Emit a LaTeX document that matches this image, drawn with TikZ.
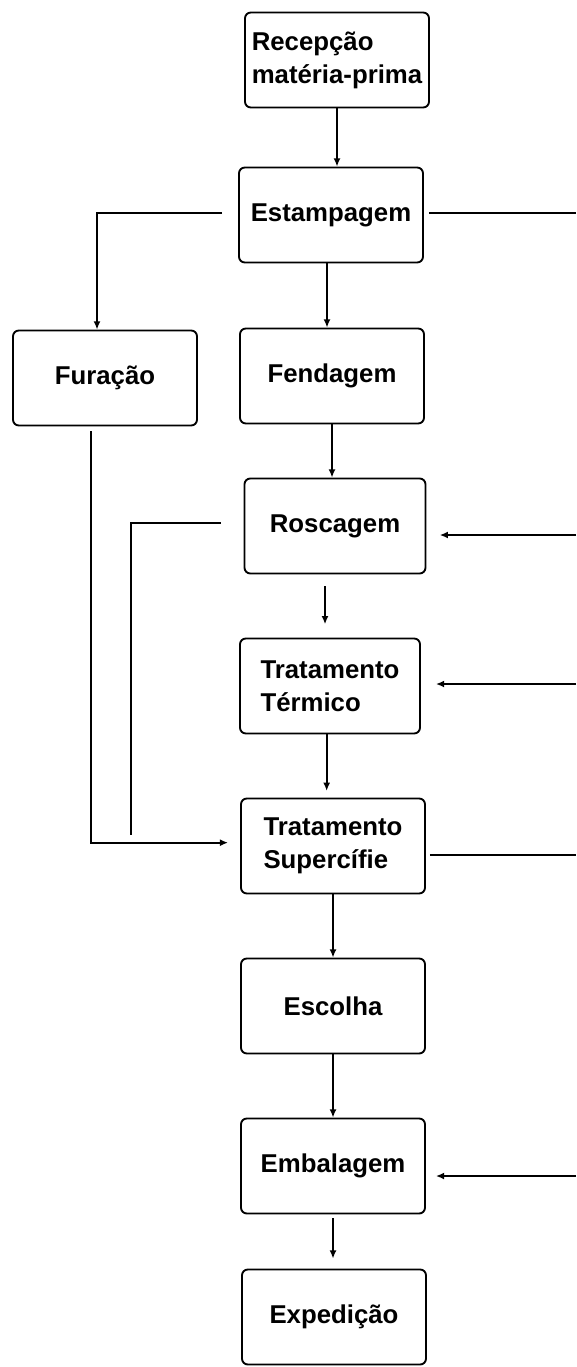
\documentclass[tikz,border=0pt]{standalone}
\usepackage{fontspec}
\setmainfont{Liberation Sans}
\usetikzlibrary{arrows.meta,positioning}

\begin{document}
\begin{tikzpicture}[x=0.03cm,y=-0.03cm,
  etapa/.style={draw,line width=1.6pt,rounded corners=5pt,minimum width=5.52cm,
    minimum height=2.85cm,inner sep=2pt,align=left,
    font=\bfseries\fontsize{22}{28}\selectfont},
  fluxo/.style={line width=1.6pt,-{Latex[length=7pt,width=6pt]}},
  linha/.style={line width=1.6pt}]
  \useasboundingbox (0,0) rectangle (576,1367);
  \coordinate (borda) at (576,0);

  % Etapas
  \node[etapa] (rec) at (337,60) {Recepção\\matéria-prima};
  \node[etapa] (est) at (331,215) {Estampagem};
  \node[etapa] (fur) at (105,378) {Furação};
  \node[etapa] (fen) at (332,376) {Fendagem};
  \node[etapa,minimum width=5.43cm] (ros) at (335,526) {Roscagem};
  \node[etapa,minimum width=5.4cm] (ter) at (330,686) {Tratamento\\Térmico};
  \node[etapa] (sup) at (333,846) {Tratamento\\Supercífie};
  \node[etapa] (esc) at (333,1006) {Escolha};
  \node[etapa] (emb) at (333,1166) {Embalagem};
  \node[etapa] (exp) at (334,1317) {Expedição};

  % Fluxo principal
  \draw[fluxo] (rec.south) -- (rec.south |- est.north);
  \draw[fluxo] ([xshift=-0.12cm]est.south) -- ([xshift=-0.12cm]est.south |- fen.north);
  \draw[fluxo] (fen.south) -- (fen.south |- ros.north);
  \draw[fluxo,shorten <=0.35cm,shorten >=0.4cm] ([xshift=-0.3cm]ros.south) -- ([xshift=-0.3cm]ros.south |- ter.north);
  \draw[fluxo,shorten >=0.2cm] ([xshift=-0.1cm]ter.south) -- ([xshift=-0.1cm]ter.south |- sup.north);
  \draw[fluxo] (sup.south) -- (sup.south |- esc.north);
  \draw[fluxo] (esc.south) -- (esc.south |- emb.north);
  \draw[fluxo,shorten <=0.12cm,shorten >=0.3cm] (emb.south) -- (emb.south |- exp.north);

  % Desvios a esquerda
  \draw[fluxo,shorten <=0.48cm] ([yshift=0.06cm]est.west) -| ([xshift=-0.24cm]fur.north);
  \coordinate (rosfim) at (131,835);
  \draw[linha,shorten <=0.69cm] ([yshift=0.1cm]ros.west) -| (rosfim);
  \draw[fluxo,shorten <=0.15cm,shorten >=0.36cm] ([xshift=-0.42cm]fur.south) |- ([yshift=0.1cm]sup.west);

  % Ligacoes a direita
  \draw[linha,shorten <=0.15cm] ([yshift=0.06cm]est.east) -- ([yshift=0.06cm]est.east -| borda);
  \draw[fluxo,shorten >=0.4cm] ([yshift=-0.27cm]ros.east -| borda) -- ([yshift=-0.27cm]ros.east);
  \draw[fluxo,shorten >=0.45cm] ([yshift=0.06cm]ter.east -| borda) -- ([yshift=0.06cm]ter.east);
  \draw[linha,shorten <=0.12cm] ([yshift=-0.27cm]sup.east) -- ([yshift=-0.27cm]sup.east -| borda);
  \draw[fluxo,shorten >=0.3cm] ([yshift=-0.3cm]emb.east -| borda) -- ([yshift=-0.3cm]emb.east);
\end{tikzpicture}
\end{document}
